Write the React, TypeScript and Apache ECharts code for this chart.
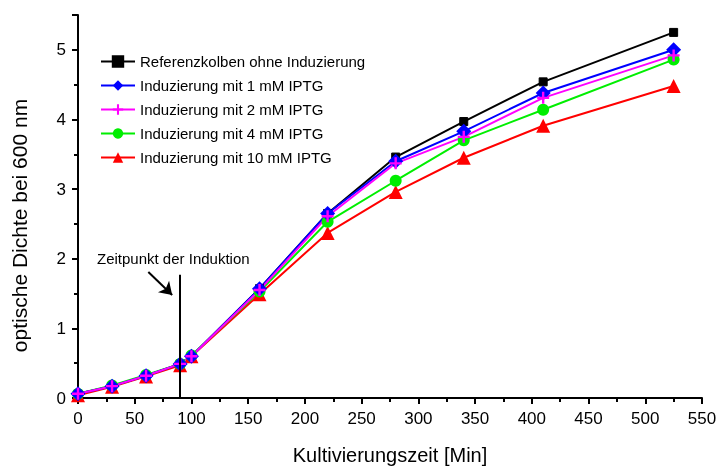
import React, { useEffect, useRef } from "react";
import * as echarts from "echarts";

const times = [0, 30, 60, 90, 100, 160, 220, 280, 340, 410, 525];
const seriesNames = [
  "Referenzkolben ohne Induzierung",
  "Induzierung mit 1 mM IPTG",
  "Induzierung mit 2 mM IPTG",
  "Induzierung mit 4 mM IPTG",
  "Induzierung mit 10 mM IPTG",
];
const refValues = [0.06, 0.17, 0.32, 0.49, 0.6, 1.57, 2.65, 3.46, 3.97, 4.54, 5.25];
const iptg1Values = [0.06, 0.17, 0.32, 0.49, 0.6, 1.57, 2.65, 3.4, 3.83, 4.38, 5.0];
const iptg2Values = [0.06, 0.17, 0.32, 0.49, 0.6, 1.55, 2.61, 3.37, 3.75, 4.31, 4.92];
const iptg4Values = [0.06, 0.18, 0.33, 0.49, 0.61, 1.53, 2.53, 3.12, 3.7, 4.14, 4.86];
const iptg10Values = [0.04, 0.16, 0.31, 0.47, 0.6, 1.49, 2.37, 2.96, 3.45, 3.91, 4.48];
const inductionTime = 90;
const inductionLineTop = 1.77;
const annotationText = "Zeitpunkt der Induktion";

const FONT = "Liberation Sans, Arial, sans-serif";
const plusPath = "path://M4,0h2v4h4v2h-4v4h-2v-4h-4v-2h4z";

function pairs(vals: number[]) {
  return times.map((t, i) => [t, vals[i]]);
}

export default function App() {
  const ref = useRef<HTMLDivElement>(null);
  useEffect(() => {
    if (!ref.current) return;
    const chart = echarts.init(ref.current, null, { renderer: "svg" });
    const lineSeries = (name: string, vals: number[], color: string, symbol: string, size: number, extra: any = {}) => ({
      name,
      type: "line",
      data: pairs(vals),
      symbol,
      symbolSize: size,
      lineStyle: { color, width: 2 },
      itemStyle: { color },
      ...extra,
    });
    chart.setOption({
      animation: false,
      grid: { left: 78, right: 16, top: 15, bottom: 68, outerBoundsMode: "none", containLabel: false },
      legend: {
        data: seriesNames,
        orient: "vertical",
        left: 95,
        top: 49,
        itemWidth: 34,
        itemHeight: 13,
        itemGap: 9,
        textStyle: { fontFamily: FONT, fontSize: 15, color: "#000" },
      },
      xAxis: {
        type: "value",
        min: 0,
        max: 550,
        interval: 50,
        name: "Kultivierungszeit [Min]",
        nameLocation: "middle",
        nameGap: 47,
        nameTextStyle: { fontFamily: FONT, fontSize: 20, color: "#000" },
        axisLine: { lineStyle: { color: "#000", width: 2 } },
        axisTick: { inside: false, length: 6, lineStyle: { color: "#000", width: 2 } },
        minorTick: { show: true, splitNumber: 2, length: 4, lineStyle: { color: "#000", width: 2 } },
        axisLabel: { fontFamily: FONT, fontSize: 17, color: "#000", margin: 12 },
        splitLine: { show: false },
      },
      yAxis: {
        type: "value",
        min: 0,
        max: 5.5,
        interval: 1,
        name: "optische Dichte bei 600 nm",
        nameLocation: "middle",
        nameGap: 48,
        nameTextStyle: { fontFamily: FONT, fontSize: 21, color: "#000", padding: [0, 38, 0, 0] },
        axisLine: { show: true, lineStyle: { color: "#000", width: 2 } },
        axisTick: { show: true, inside: false, length: 6, lineStyle: { color: "#000", width: 2 } },
        minorTick: { show: true, splitNumber: 2, length: 4, lineStyle: { color: "#000", width: 2 } },
        axisLabel: {
          fontFamily: FONT,
          fontSize: 17,
          color: "#000",
          margin: 12,
          formatter: (v: number) => (Number.isInteger(v) ? String(v) : ""),
        },
        splitLine: { show: false },
      },
      series: [
        lineSeries(seriesNames[0], refValues, "#000000", "rect", 8, {
          itemStyle: { color: "#000", borderColor: "#000", borderWidth: 1 },
          markLine: {
            silent: true,
            symbol: ["none", "none"],
            label: { show: false },
            lineStyle: { color: "#000", width: 2, type: "solid" },
            data: [
              [
                { coord: [inductionTime, 0] },
                { coord: [inductionTime, inductionLineTop] },
              ],
              [
                { coord: [62, 1.81], symbol: "none" },
                { coord: [83, 1.48], symbol: "arrow", symbolSize: 12 },
              ],
            ],
          },
          markPoint: {
            silent: true,
            symbol: "circle",
            symbolSize: 0,
            data: [
              {
                coord: [84, 2.0],
                label: {
                  show: true,
                  formatter: annotationText,
                  position: "inside",
                  fontFamily: FONT,
                  fontSize: 15,
                  color: "#000",
                },
              },
            ],
          },
        }),
        lineSeries(seriesNames[4], iptg10Values, "#ff0000", "triangle", 14),
        lineSeries(seriesNames[3], iptg4Values, "#00ee00", "circle", 12),
        lineSeries(seriesNames[1], iptg1Values, "#0000ff", "diamond", 15),
        lineSeries(seriesNames[2], iptg2Values, "#ff00ff", plusPath, 12),
      ],
    });
    return () => chart.dispose();
  }, []);
  return <div ref={ref} style={{ position: "fixed", left: 0, top: 0, width: 718, height: 466 }} />;
}
